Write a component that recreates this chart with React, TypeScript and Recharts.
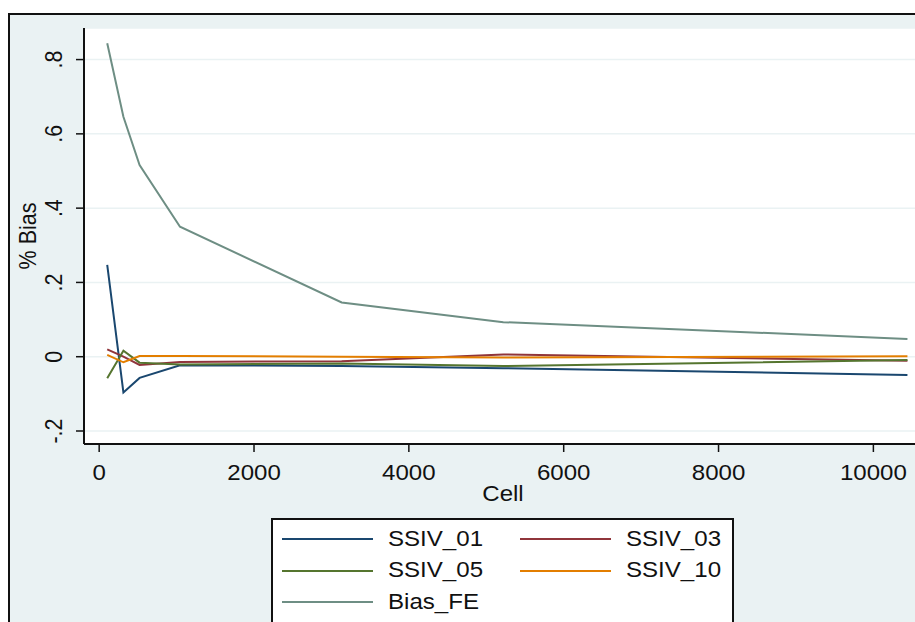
import React from "react";
import {
  LineChart,
  Line,
  XAxis,
  YAxis,
  CartesianGrid,
  Legend,
} from "recharts";

// cell counts (x) and % bias for each estimator
const cells = [104, 313, 522, 1044, 3132, 5220, 10440];
const ssiv01 = [0.247, -0.096, -0.057, -0.023, -0.025, -0.031, -0.049];
const ssiv03 = [0.02, 0.0, -0.022, -0.014, -0.012, 0.006, -0.011];
const ssiv05 = [-0.058, 0.016, -0.016, -0.021, -0.018, -0.025, -0.009];
const ssiv10 = [0.005, -0.015, 0.002, 0.002, 0.0, -0.002, 0.001];
const biasFE = [0.844, 0.646, 0.516, 0.35, 0.146, 0.093, 0.048];

const xTicks = [0, 2000, 4000, 6000, 8000, 10000];
const yTicks = [-0.2, 0, 0.2, 0.4, 0.6, 0.8];
const yTickLabels = ["-.2", "0", ".2", ".4", ".6", ".8"];

const data = cells.map((cell, i) => ({
  cell,
  SSIV_01: ssiv01[i],
  SSIV_03: ssiv03[i],
  SSIV_05: ssiv05[i],
  SSIV_10: ssiv10[i],
  Bias_FE: biasFE[i],
}));

const series = [
  { key: "SSIV_01", color: "#1a476f" },
  { key: "SSIV_03", color: "#90353b" },
  { key: "SSIV_05", color: "#55752f" },
  { key: "SSIV_10", color: "#e37e00" },
  { key: "Bias_FE", color: "#6e8e84" },
];
const order = series.map((s) => s.key);

const FONT = "'Liberation Sans', Arial, sans-serif";
const FS = 21.5;
const STRETCH = 1.12;
const INK = "#111";
const BG = "#eaf2f3";

const XTick = (props: any) => {
  const { x, y, payload } = props;
  return (
    <text
      transform={`translate(${x},${y + 26}) scale(${STRETCH},1)`}
      textAnchor="middle"
      fontSize={FS}
      fontFamily={FONT}
      fill={INK}
    >
      {payload.value}
    </text>
  );
};

const YTick = (props: any) => {
  const { x, y, payload } = props;
  const idx = yTicks.indexOf(payload.value);
  return (
    <text
      transform={`translate(${x - 12},${y}) scale(${STRETCH},1) rotate(-90)`}
      textAnchor="middle"
      fontSize={FS}
      fontFamily={FONT}
      fill={INK}
    >
      {idx >= 0 ? yTickLabels[idx] : payload.value}
    </text>
  );
};

const LegendBox = (props: any) => {
  const items = [...(props.payload || [])].sort(
    (a: any, b: any) => order.indexOf(a.value) - order.indexOf(b.value)
  );
  return (
    <div
      style={{
        position: "relative",
        width: 459,
        height: 120,
        border: `2px solid ${INK}`,
        background: "#fff",
        fontFamily: FONT,
        fontSize: FS,
        color: INK,
      }}
    >
      {items.map((p: any, i: number) => (
        <div
          key={p.value}
          style={{
            position: "absolute",
            left: (i % 2) * 238 + 9,
            top: Math.floor(i / 2) * 31.7 + 3,
            height: 32,
            display: "flex",
            alignItems: "center",
          }}
        >
          <div style={{ width: 91, height: 2, background: p.color }} />
          <span
            style={{
              marginLeft: 15,
              display: "inline-block",
              transform: `scaleX(${STRETCH})`,
              transformOrigin: "left center",
              whiteSpace: "nowrap",
            }}
          >
            {p.value}
          </span>
        </div>
      ))}
    </div>
  );
};

export default function App() {
  return (
    <div
      style={{
        position: "relative",
        width: 915,
        height: 622,
        overflow: "hidden",
        background: "#fff",
      }}
    >
      <style>{"body{margin:0;overflow:hidden}"}</style>
      <div
        style={{
          position: "absolute",
          left: 8,
          top: 13,
          width: 1000,
          height: 700,
          border: `2px solid ${INK}`,
          background: BG,
        }}
      />
      <div style={{ position: "absolute", left: 0, top: 0 }}>
        <LineChart
          width={925}
          height={622}
          data={data}
          margin={{ top: 28, right: 3, left: 8, bottom: 118 }}
        >
          <CartesianGrid
            vertical={false}
            stroke={BG}
            strokeWidth={1.5}
            fill="#fff"
          />
          <XAxis
            dataKey="cell"
            type="number"
            domain={[-196, 10628]}
            ticks={xTicks}
            height={60}
            tickSize={8}
            axisLine={{ stroke: INK, strokeWidth: 2 }}
            tickLine={{ stroke: INK, strokeWidth: 1.5 }}
            tick={<XTick />}
            label={{
              content: (p: any) => (
                <text
                  transform={`translate(${p.viewBox.x + p.viewBox.width / 2},${
                    p.viewBox.y + 57
                  }) scale(${STRETCH},1)`}
                  textAnchor="middle"
                  fontSize={FS}
                  fontFamily={FONT}
                  fill={INK}
                >
                  Cell
                </text>
              ),
            }}
          />
          <YAxis
            type="number"
            domain={[-0.235, 0.885]}
            ticks={yTicks}
            width={76}
            tickSize={8}
            axisLine={{ stroke: INK, strokeWidth: 2 }}
            tickLine={{ stroke: INK, strokeWidth: 1.5 }}
            tick={<YTick />}
            label={{
              content: (p: any) => (
                <text
                  transform={`translate(36,${
                    p.viewBox.y + p.viewBox.height / 2
                  }) scale(${STRETCH},1) rotate(-90)`}
                  textAnchor="middle"
                  fontSize={FS}
                  fontFamily={FONT}
                  fill={INK}
                >
                  % Bias
                </text>
              ),
            }}
          />
          <Legend
            layout="horizontal"
            align="center"
            verticalAlign="middle"
            wrapperStyle={{ position: "absolute", left: 271, top: 518, width: 463 }}
            content={<LegendBox />}
          />
          {series.map((s) => (
            <Line
              key={s.key}
              type="linear"
              dataKey={s.key}
              stroke={s.color}
              strokeWidth={2}
              dot={false}
              isAnimationActive={false}
            />
          ))}
        </LineChart>
      </div>
    </div>
  );
}
